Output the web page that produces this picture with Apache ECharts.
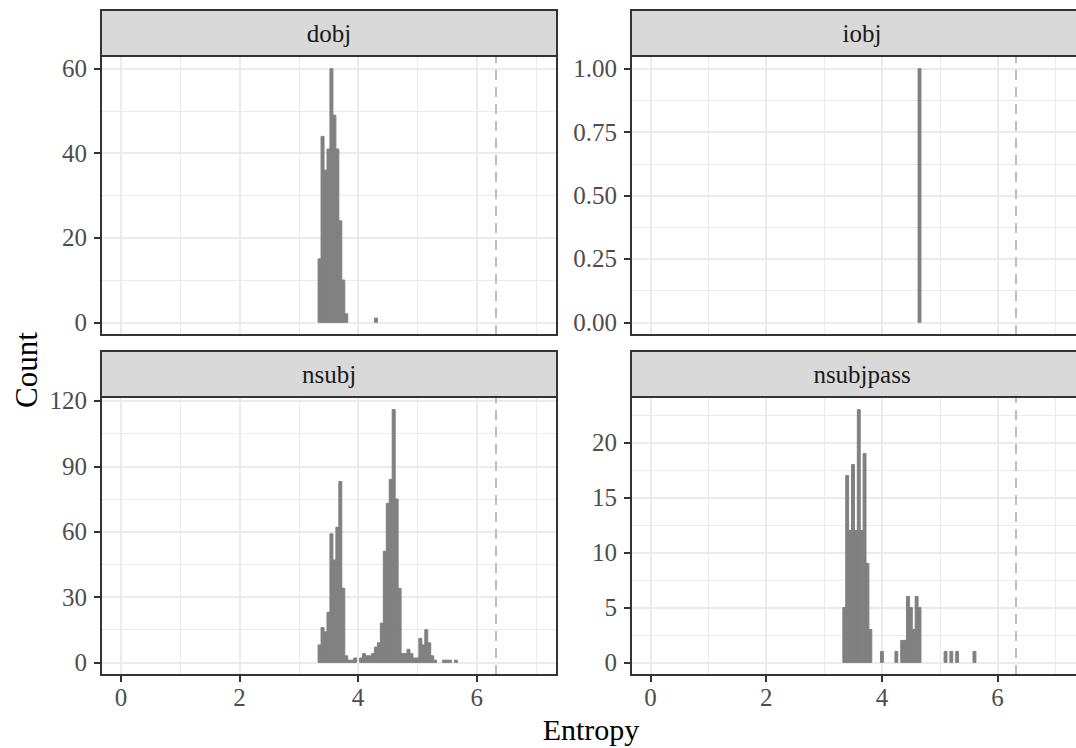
<!DOCTYPE html>
<html><head><meta charset="utf-8">
<script src="https://cdn.jsdelivr.net/npm/echarts@6/dist/echarts.min.js"></script>
<style>html,body{margin:0;padding:0;background:#fff}#c{width:1076px;height:748px}</style>
</head><body><div id="c"></div>
<script>
// ---- data ----
const binWidth = 0.05;
const threshold = 6.32;
const panelNames = ['dobj', 'iobj', 'nsubj', 'nsubjpass'];
const xTicks = [0, 2, 4, 6];
const xMinorTicks = [1, 3, 5, 7];
const xMin = -0.337, xMax = 7.355;

const dobjX = [3.35, 3.40, 3.45, 3.50, 3.55, 3.60, 3.65, 3.70, 3.75, 3.80, 4.30];
const dobjN = [15, 44, 36, 41, 60, 49, 41, 24, 10, 2, 1];

const iobjX = [4.65];
const iobjN = [1];

const nsubjX = [3.35, 3.40, 3.45, 3.50, 3.55, 3.60, 3.65, 3.70, 3.75, 3.80, 3.85, 3.90, 3.95,
  4.05, 4.10, 4.15, 4.20, 4.25, 4.30, 4.35, 4.40, 4.45, 4.50, 4.55, 4.60, 4.65, 4.70, 4.75, 4.80,
  4.85, 4.90, 4.95, 5.00, 5.05, 5.10, 5.15, 5.20, 5.25, 5.30, 5.45, 5.50, 5.55, 5.65];
const nsubjN = [8, 16, 14, 23, 59, 47, 62, 83, 34, 3, 1, 1, 2,
  2, 4, 3, 3, 4, 7, 9, 18, 51, 73, 84, 116, 75, 34, 4, 4,
  6, 4, 2, 2, 11, 8, 15, 9, 3, 1, 1, 1, 1, 1];

const nsubjpassX = [3.35, 3.40, 3.45, 3.50, 3.55, 3.60, 3.65, 3.70, 3.75, 3.80, 4.00, 4.25,
  4.35, 4.40, 4.45, 4.50, 4.55, 4.60, 4.65, 5.10, 5.20, 5.30, 5.60];
const nsubjpassN = [5, 17, 12, 18, 12, 23, 12, 19, 9, 3, 1, 1,
  2, 2, 6, 5, 3, 6, 5, 1, 1, 1, 1];

const yTicksDobj = [0, 20, 40, 60], yMinorDobj = [10, 30, 50];
const yTicksIobj = [0, 0.25, 0.5, 0.75, 1], yMinorIobj = [0.125, 0.375, 0.625, 0.875];
const yTicksNsubj = [0, 30, 60, 90, 120], yMinorNsubj = [15, 45, 75, 105];
const yTicksPass = [0, 5, 10, 15, 20], yMinorPass = [2.5, 7.5, 12.5, 17.5, 22.5];

// ---- layout ----
const FONT = 'Liberation Serif';
const panels = [
  { name: panelNames[0], xs: dobjX, ns: dobjN, yt: yTicksDobj, ym: yMinorDobj, dec: 0, box: { left: 101, top: 56, width: 456, height: 279 }, bottom: false },
  { name: panelNames[1], xs: iobjX, ns: iobjN, yt: yTicksIobj, ym: yMinorIobj, dec: 2, box: { left: 631, top: 56, width: 456, height: 279 }, bottom: false },
  { name: panelNames[2], xs: nsubjX, ns: nsubjN, yt: yTicksNsubj, ym: yMinorNsubj, dec: 0, box: { left: 101, top: 397, width: 456, height: 278 }, bottom: true },
  { name: panelNames[3], xs: nsubjpassX, ns: nsubjpassN, yt: yTicksPass, ym: yMinorPass, dec: 0, box: { left: 631, top: 397, width: 456, height: 278 }, bottom: true }
];
const STRIP_H = 46;

const grid = [], xAxis = [], yAxis = [], series = [], graphic = [];
const majorLine = { show: true, lineStyle: { color: '#ebebeb', width: 2 } };
const minorLine = { show: true, lineStyle: { color: '#ebebeb', width: 1 } };
const tickLabel = { color: '#4d4d4d', fontFamily: FONT, fontSize: 25 };

panels.forEach((p, i) => {
  grid.push(Object.assign({ containLabel: false }, p.box));
  const maxN = Math.max(...p.ns);
  const yMin = -0.05 * maxN, yMax = 1.05 * maxN;
  xAxis.push({
    type: 'value', gridIndex: i, min: xMin, max: xMax, position: 'bottom',
    axisLine: { show: false, onZero: false },
    axisTick: { show: p.bottom, customValues: xTicks, length: 7, lineStyle: { color: '#333', width: 2 } },
    axisLabel: { show: p.bottom, customValues: xTicks, margin: 10, ...tickLabel },
    splitLine: majorLine
  });
  xAxis.push({
    type: 'value', gridIndex: i, min: xMin, max: xMax, position: 'top',
    axisLine: { show: false, onZero: false },
    axisTick: { show: false, customValues: xMinorTicks },
    axisLabel: { show: false },
    splitLine: minorLine
  });
  yAxis.push({
    type: 'value', gridIndex: i, min: yMin, max: yMax, position: 'left',
    axisLine: { show: false, onZero: false },
    axisTick: { show: true, customValues: p.yt, length: 7, lineStyle: { color: '#333', width: 2 } },
    axisLabel: { show: true, customValues: p.yt, margin: 14, formatter: v => Number(v).toFixed(p.dec), ...tickLabel },
    splitLine: majorLine
  });
  yAxis.push({
    type: 'value', gridIndex: i, min: yMin, max: yMax, position: 'right',
    axisLine: { show: false, onZero: false },
    axisTick: { show: false, customValues: p.ym },
    axisLabel: { show: false },
    splitLine: minorLine
  });
  series.push({
    type: 'custom', name: p.name,
    xAxisIndex: 2 * i, yAxisIndex: 2 * i,
    data: p.xs.map((x, j) => [x, p.ns[j]]),
    clip: true,
    renderItem: (params, api) => {
      const x = api.value(0), n = api.value(1);
      const a = api.coord([x - binWidth / 2, n]);
      const b = api.coord([x + binWidth / 2, 0]);
      return { type: 'rect', shape: { x: a[0], y: a[1], width: b[0] - a[0], height: b[1] - a[1] },
        style: { fill: '#808080', stroke: '#808080', lineWidth: 1 } };
    },
    z: 3
  });
  series.push({
    type: 'line', xAxisIndex: 2 * i, yAxisIndex: 2 * i, data: [], silent: true,
    markLine: {
      silent: true, symbol: ['none', 'none'], label: { show: false },
      lineStyle: { color: '#bebebe', width: 2, type: [10, 7] },
      data: [{ xAxis: threshold }]
    }
  });
  graphic.push({
    type: 'rect', z: 100,
    shape: { x: p.box.left, y: p.box.top - STRIP_H, width: p.box.width, height: STRIP_H },
    style: { fill: '#d9d9d9', stroke: '#333', lineWidth: 2 }
  });
  graphic.push({
    type: 'text', z: 101,
    x: p.box.left + p.box.width / 2 + (i % 2 === 1 ? 3 : 0), y: p.box.top - STRIP_H / 2,
    style: { text: p.name, fill: '#1a1a1a', font: '25px "' + FONT + '"', align: 'center', verticalAlign: 'middle' }
  });
  graphic.push({
    type: 'rect', z: 100,
    shape: { x: p.box.left, y: p.box.top, width: p.box.width, height: p.box.height },
    style: { fill: null, stroke: '#333', lineWidth: 2 }
  });
});

graphic.push({
  type: 'text', x: 26, y: 370, rotation: Math.PI / 2,
  style: { text: 'Count', fill: '#000', font: '31px "' + FONT + '"', align: 'center', verticalAlign: 'middle' }
});
graphic.push({
  type: 'text', x: 591, y: 729,
  style: { text: 'Entropy', fill: '#000', font: '30px "' + FONT + '"', align: 'center', verticalAlign: 'middle' }
});

const chart = echarts.init(document.getElementById('c'), null, { renderer: 'svg' });
chart.setOption({
  animation: false,
  backgroundColor: '#fff',
  grid, xAxis, yAxis, series, graphic
});
</script>
</body></html>
